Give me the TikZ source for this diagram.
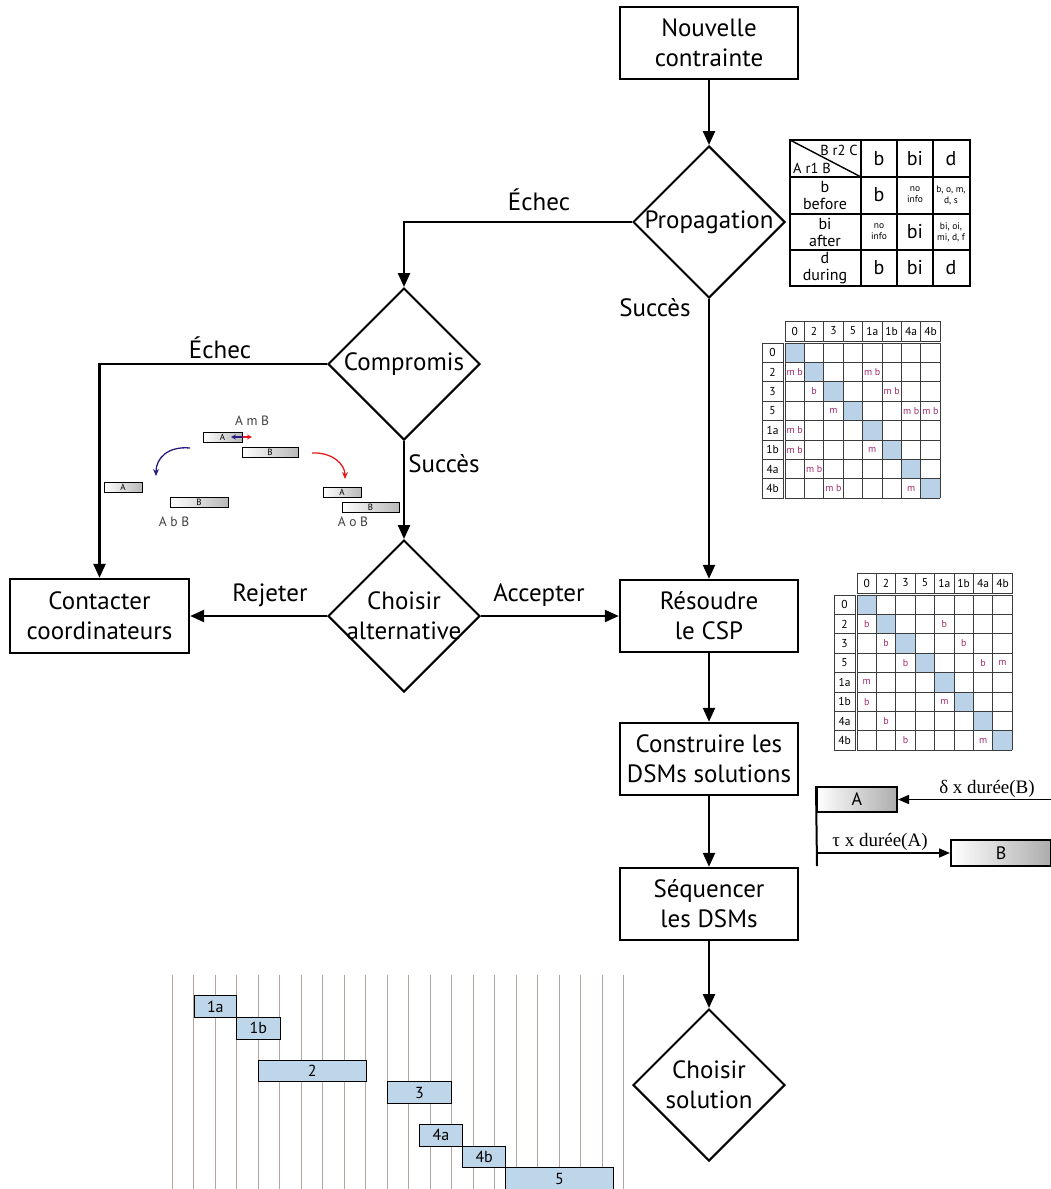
\documentclass[tikz,border=0pt]{standalone}
\usepackage{fontspec}
\setmainfont{PT Sans}
\newfontfamily\serifx{Liberation Serif}
\usetikzlibrary{shapes.geometric,arrows.meta,calc}
\definecolor{diagblue}{RGB}{186,210,232}
\definecolor{barblue}{RGB}{190,214,234}
\definecolor{magx}{RGB}{165,45,110}
\definecolor{ganttc}{RGB}{178,165,160}
\definecolor{gridc}{RGB}{60,60,60}
\definecolor{bluearr}{RGB}{40,30,130}
\definecolor{redarr}{RGB}{225,30,30}
\tikzset{
  box/.style={draw, line width=2.4pt, minimum width=178pt, minimum height=72pt, align=center, inner sep=0pt, font=\fontsize{25}{30}\selectfont},
  dia/.style={draw, diamond, aspect=1, line width=2pt, minimum width=152pt, minimum height=152pt, inner sep=0pt},
  lbl/.style={font=\fontsize{25}{30}\selectfont, align=center, inner sep=0pt},
  arr/.style={line width=2.4pt, -{Triangle[length=14pt,width=12pt]}},
  tcell/.style={inner sep=0pt, align=center},
  hdr/.style={inner sep=0pt, font=\fontsize{11.5}{11.5}\selectfont},
  ent/.style={inner sep=0pt, text=magx, font=\fontsize{10}{10}\selectfont},
  gbox/.style={draw, line width=0.7pt, left color=white, right color=gray!55, inner sep=0pt, font=\fontsize{9}{9}\selectfont},
  tbox/.style={draw, line width=2pt, left color=white, right color=gray!65, inner sep=0pt, font=\fontsize{18}{18}\selectfont},
  gbar/.style={draw, line width=1pt, fill=barblue, inner sep=0pt, minimum height=21.7pt, font=\fontsize{16}{16}\selectfont},
  small/.style={inner sep=0pt, text=black!75, font=\fontsize{13.5}{13.5}\selectfont},
}
\newcommand\mydsm[3]{%
  % #1 name, #2 x0 of grid, #3 y0 of grid
  \begin{scope}[shift={(#2,#3)}]
    \foreach \i in {0,...,7} \fill[diagblue] (\i*19.4,\i*19.4) rectangle ++(19.4,19.4);
    \foreach \i in {0,...,8} {
      \draw[gridc, line width=0.7pt] (\i*19.4,0) -- (\i*19.4,155.2);
      \draw[gridc, line width=0.7pt] (0,\i*19.4) -- (155.2,\i*19.4);
    }
    \draw[gridc, line width=0.7pt] (0,-22) rectangle (155.2,-2);
    \foreach \i in {1,...,7} \draw[gridc, line width=0.7pt] (\i*19.4,-22) -- (\i*19.4,-2);
    \draw[gridc, line width=0.7pt] (-23,0) rectangle (-2,155.2);
    \foreach \i in {1,...,7} \draw[gridc, line width=0.7pt] (-23,\i*19.4) -- (-2,\i*19.4);
    \foreach \t [count=\k from 0] in {0,2,3,5,1a,1b,4a,4b} {
      \node[hdr] (#1-h\k) at (\k*19.4+9.7,-12) {\t};
      \node[hdr] (#1-r\k) at (-12.5,\k*19.4+9.7) {\t};
    }
  \end{scope}}
\begin{document}
\begin{tikzpicture}[x=1pt,y=-1pt]
\useasboundingbox (0,0) rectangle (1051,1189);
\fill[white] (0,0) rectangle (1051,1189);

% ---------------- flowchart ----------------
\node[box] (nc) at (709,43) {Nouvelle\\contrainte};
\node[dia, label={[lbl]center:Propagation}] (prop) at (709,222) {};
\node[dia, label={[lbl]center:Compromis}] (comp) at (404,364) {};
\node[dia, label={[lbl]center:Choisir\\alternative}] (choix) at (404,616) {};
\node[box, minimum width=179pt, minimum height=74pt] (cont) at (99.5,616) {Contacter\\coordinateurs};
\node[box] (res) at (709,616) {Résoudre\\le CSP};
\node[box] (cons) at (709,759) {Construire les\\DSMs solutions};
\node[box] (seq) at (709,904) {Séquencer\\les DSMs};
\node[dia, label={[lbl]center:Choisir\\solution}] (sol) at (709,1085) {};

\draw[arr] (nc) -- (prop);
\draw[arr] (prop.west) -| (comp.north);
\draw[arr] (prop.south) -- (res.north);
\draw[arr] (comp.west) -| (cont.north);
\draw[arr] (comp.south) -- (choix.north);
\draw[arr] (choix.west) -- (cont.east);
\draw[arr] (choix.east) -- (res.west);
\draw[arr] (res) -- (cons);
\draw[arr] (cons) -- (seq);
\draw[arr] (seq) -- (sol);

\node[lbl] (l1) at (539,200) {Échec};
\node[lbl] (l2) at (655,308) {Succès};
\node[lbl] (l3) at (220,348) {Échec};
\node[lbl] (l4) at (444,464) {Succès};
\node[lbl] (l5) at (270,595) {Rejeter};
\node[lbl] (l6) at (539,595) {Accepter};

% ---------------- composition table ----------------
\draw[line width=1.8pt] (790,140) rectangle (970,286);
\foreach \x in {861,897,933} \draw[line width=1.8pt] (\x,140) -- (\x,286);
\foreach \y in {177,214,250} \draw[line width=1.8pt] (790,\y) -- (970,\y);
\draw[line width=1.4pt] (790,140) -- (861,177);
\node[tcell, font=\fontsize{14.5}{14.5}\selectfont] (t00a) at (839,150) {B r2 C};
\node[tcell, font=\fontsize{14.5}{14.5}\selectfont] (t00b) at (812,168) {A r1 B};
\node[tcell, font=\fontsize{20}{20}\selectfont] (t01) at (879,159) {b};
\node[tcell, font=\fontsize{20}{20}\selectfont] (t02) at (915,159) {bi};
\node[tcell, font=\fontsize{20}{20}\selectfont] (t03) at (951,159) {d};
\node[tcell, font=\fontsize{16}{17}\selectfont] (t10) at (825,195) {b\\before};
\node[tcell, font=\fontsize{20}{20}\selectfont] (t11) at (879,195) {b};
\node[tcell, font=\fontsize{9.5}{11}\selectfont] (t12) at (915,195) {no\\info};
\node[tcell, font=\fontsize{9.5}{11}\selectfont] (t13) at (951,195) {b, o, m,\\d, s};
\node[tcell, font=\fontsize{16}{17}\selectfont] (t20) at (825,232) {bi\\after};
\node[tcell, font=\fontsize{9.5}{11}\selectfont] (t21) at (879,232) {no\\info};
\node[tcell, font=\fontsize{20}{20}\selectfont] (t22) at (915,232) {bi};
\node[tcell, font=\fontsize{9.5}{11}\selectfont] (t23) at (951,232) {bi, oi,\\mi, d, f};
\node[tcell, font=\fontsize{16}{17}\selectfont] (t30) at (825,268) {d\\during};
\node[tcell, font=\fontsize{20}{20}\selectfont] (t31) at (879,268) {b};
\node[tcell, font=\fontsize{20}{20}\selectfont] (t32) at (915,268) {bi};
\node[tcell, font=\fontsize{20}{20}\selectfont] (t33) at (951,268) {d};

% ---------------- DSM 1 ----------------
\mydsm{da}{785}{343}
\begin{scope}[shift={(785,343)}]
\foreach \r/\c/\t [count=\n] in {1/0/m b,1/4/m b,2/1/b,2/5/m b,3/2/m,3/6/m b,3/7/m b,4/0/m b,5/0/m b,5/4/m,6/1/m b,7/2/m b,7/6/m}
  \node[ent] (da-e\n) at (\c*19.4+9.7,\r*19.4+9.7) {\t};
\end{scope}

% ---------------- DSM 2 ----------------
\mydsm{db}{857}{595}
\begin{scope}[shift={(857,595)}]
\foreach \r/\c/\t [count=\n] in {1/0/b,1/4/b,2/1/b,2/5/b,3/2/b,3/6/b,3/7/m,4/0/m,5/0/b,5/4/m,6/1/b,7/2/b,7/6/m}
  \node[ent] (db-e\n) at (\c*19.4+9.7,\r*19.4+9.7) {\t};
\end{scope}

% ---------------- timing A / B ----------------
\node[tbox, minimum width=80pt, minimum height=25pt] (ta) at (857,799.5) {A};
\node[tbox, minimum width=100pt, minimum height=26pt] (tb) at (1001,853) {B};
\draw[line width=2pt] (ta.north west) -- (817,866);
\coordinate (tr) at (1051,799.5);
\coordinate (tl) at (817,853);
\draw[line width=1.6pt, -{Triangle[length=11pt,width=9pt]}] (tr) -- (ta.east);
\draw[line width=1.6pt, -{Triangle[length=11pt,width=9pt]}] (tl) -- (tb.west);
\node[inner sep=0pt, font=\serifx\fontsize{19}{19}\selectfont] (td) at (987,789) {δ x durée(B)};
\node[inner sep=0pt, font=\serifx\fontsize{19}{19}\selectfont] (tt) at (880,842) {τ x durée(A)};

% ---------------- small interval diagram ----------------
\node[small] (amb) at (252,421) {A m B};
\node[gbox, minimum width=39pt, minimum height=10pt] (ma) at (222.5,437) {A};
\node[gbox, minimum width=56pt, minimum height=10pt] (mb) at (270,452) {B};
\draw[redarr, line width=1.2pt, -{Stealth[length=5pt,width=5pt]}] (240,437) -- (252,437);
\draw[bluearr, line width=1.2pt, -{Stealth[length=5pt,width=5pt]}] (243,437) -- (231,437);
\node[gbox, minimum width=38pt, minimum height=9.5pt] (ba) at (123,487.5) {A};
\node[gbox, minimum width=58pt, minimum height=10pt] (bb) at (199,502) {B};
\node[small] (abb) at (174,522) {A b B};
\node[gbox, minimum width=38pt, minimum height=9.5pt] (oa) at (342,492.5) {A};
\node[gbox, minimum width=57pt, minimum height=10pt] (ob) at (370.5,507) {B};
\node[small] (aob) at (353,522) {A o B};
\coordinate (bc1) at (190,448);
\coordinate (bc2) at (156,476);
\coordinate (rc1) at (312,453);
\coordinate (rc2) at (345,479);
\draw[bluearr, line width=1.3pt, -{Stealth[length=7pt,width=6pt]}] (bc1) .. controls (168,446) and (156,458) .. (bc2);
\draw[redarr, line width=1.3pt, -{Stealth[length=7pt,width=6pt]}] (rc1) .. controls (332,452) and (345,464) .. (rc2);

% ---------------- Gantt ----------------
\foreach \i in {0,...,21} \draw[ganttc, line width=0.9pt] (172.3+\i*21.5,975) -- (172.3+\i*21.5,1189);
\node[gbar, minimum width=42.7pt] (g1a) at (215.35,1006.5) {1a};
\node[gbar, minimum width=43.3pt] (g1b) at (258.35,1028.2) {1b};
\node[gbar, minimum width=107.7pt] (g2) at (312.15,1070.9) {2};
\node[gbar, minimum width=64.4pt] (g3) at (419.5,1092.5) {3};
\node[gbar, minimum width=43.4pt] (g4a) at (441,1135.2) {4a};
\node[gbar, minimum width=43pt] (g4b) at (484.2,1156.9) {4b};
\node[gbar, minimum width=107.6pt] (g5) at (559.5,1178.8) {5};
\end{tikzpicture}
\end{document}
